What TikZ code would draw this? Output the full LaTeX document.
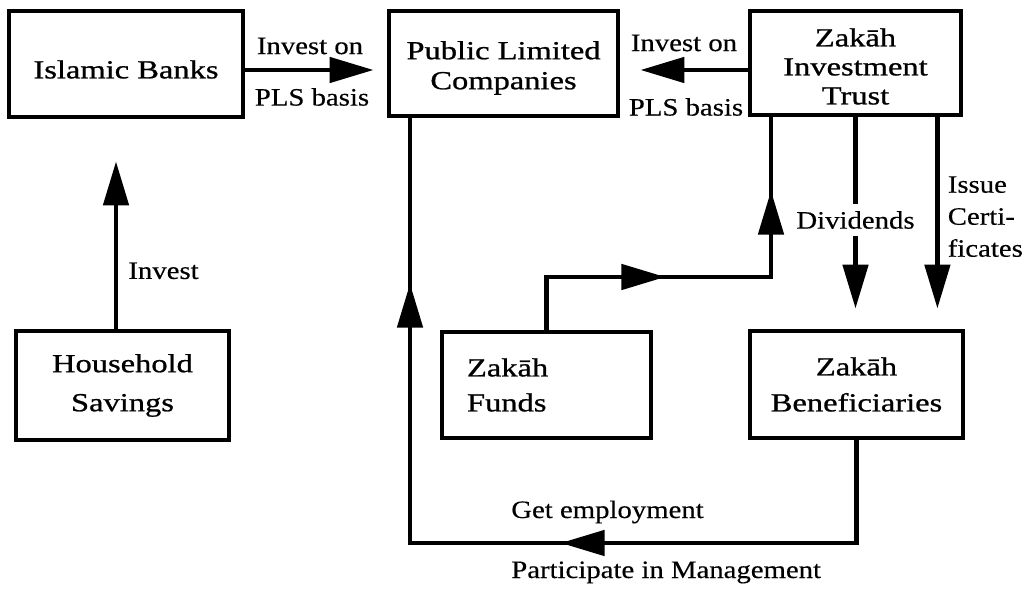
\documentclass[tikz,border=0pt]{standalone}
\usepackage{fontspec}
\setmainfont{Liberation Serif}[FakeStretch=1.15, FakeBold=0.35]
\newfontfamily\boxfont{Liberation Serif}[FakeStretch=1.25, FakeBold=0.9]
\usetikzlibrary{arrows.meta,decorations.markings}
\newcommand\boxstrut[1]{\rule{0pt}{#1}}
\tikzset{
  bigtri/.tip={Triangle[length=22pt,width=12.5pt]},
  box/.style={draw, line width=2.4pt, align=center, inner sep=0pt,
    font=\fontsize{13}{15}\selectfont\boxfont},
  lab/.style={font=\fontsize{12.5}{15}\selectfont, inner sep=1pt},
  conn/.style={line width=2.4pt},
  arrowed/.style={-bigtri},
  twoarrows/.style 2 args={postaction={decorate}, decoration={markings,
    mark=at position #1 with {\arrow{bigtri}},
    mark=at position #2 with {\arrow{bigtri}}}}
}
\begin{document}
\begin{tikzpicture}[x=0.5pt,y=-0.5pt]
\useasboundingbox (0,0) rectangle (1022,592);
\fill[white] (0,0) rectangle (1022,592);

% boxes
\node[box, minimum width=117pt, minimum height=53pt] (ib) at (126,64) {\boxstrut{14.5pt}Islamic Banks};
\node[box, minimum width=114.5pt, minimum height=52.5pt] (plc) at (503.5,63.5) {\boxstrut{13.5pt}Public Limited\\Companies};
\node[box, minimum width=105.5pt, minimum height=52pt, font=\fontsize{13}{14.5}\selectfont\boxfont] (zit) at (855.5,63) {\boxstrut{12.5pt}Zakāh\\Investment\\Trust};
\node[box, minimum width=106.5pt, minimum height=54.5pt] (hs) at (122.5,385.5) {Household\\[4.5pt]Savings};
\node[box, minimum height=53pt, align=left, inner xsep=12.5pt, text width=79.5pt] (zf) at (546.5,385) {Zakāh\\[2.5pt]Funds};
\node[box, minimum width=106.5pt, minimum height=53.5pt] (zb) at (856.5,384.5) {Zakāh\\[3pt]Beneficiaries};

\coordinate (c1) at (771,277);
\coordinate (c2) at (410,543);

% Islamic Banks -> PLC
\draw[conn, arrowed, shorten >=6.5pt] ([yshift=-3pt]ib.east) -- ([yshift=-3pt]ib.east -| plc.west)
  node[lab, midway, xshift=-3pt, yshift=12pt] (l1) {Invest on}
  node[lab, midway, xshift=-2pt, yshift=-13.5pt] (l2) {PLS basis};

% ZIT -> PLC
\draw[conn, arrowed, shorten >=10pt] ([yshift=-3.5pt]zit.west) -- ([yshift=-3.5pt]zit.west -| plc.east)
  node[lab, midway, yshift=13.5pt] (l3) {Invest on}
  node[lab, midway, xshift=1pt, yshift=-18.5pt] (l4) {PLS basis};

% Household -> Islamic Banks
\draw[conn, arrowed, shorten >=21pt] ([xshift=-3.25pt]hs.north) -- ([xshift=-3.25pt]hs.north |- ib.south)
  node[lab, pos=0.276, anchor=west, xshift=4pt] (l5) {Invest};

% Dividends
\draw[conn, arrowed, shorten >=10pt] (zit.south) -- (zit.south |- zb.north)
  node[lab, pos=0.486, fill=white, inner xsep=2pt, inner ysep=3.5pt] (l6) {Dividends};

% Issue Certificates
\draw[conn, arrowed, shorten >=10pt] ([xshift=-13pt]zit.south east) -- ([xshift=-13pt]zit.south east |- zb.north)
  node[lab, pos=0.47, anchor=west, xshift=3pt, align=left, font=\fontsize{12.5}{16}\selectfont] (l7) {Issue\\Certi-\\ficates};

% Zakah Funds -> ZIT
\draw[conn, twoarrows={85.75pt}{181.75pt}] (zf.north) |- (c1) -- (c1 |- zit.south);

% Zakah Beneficiaries -> PLC
\draw[conn, twoarrows={199.25pt}{404.25pt}] (zb.south) -- (zb.south |- c2)
  -- node[lab, pos=0.783, anchor=base west, yshift=12.5pt] (l8) {Get employment}
     node[lab, pos=0.783, anchor=base west, yshift=-17.5pt] (l9) {Participate in Management}
  (c2) -- (c2 |- plc.south);
\end{tikzpicture}
\end{document}
